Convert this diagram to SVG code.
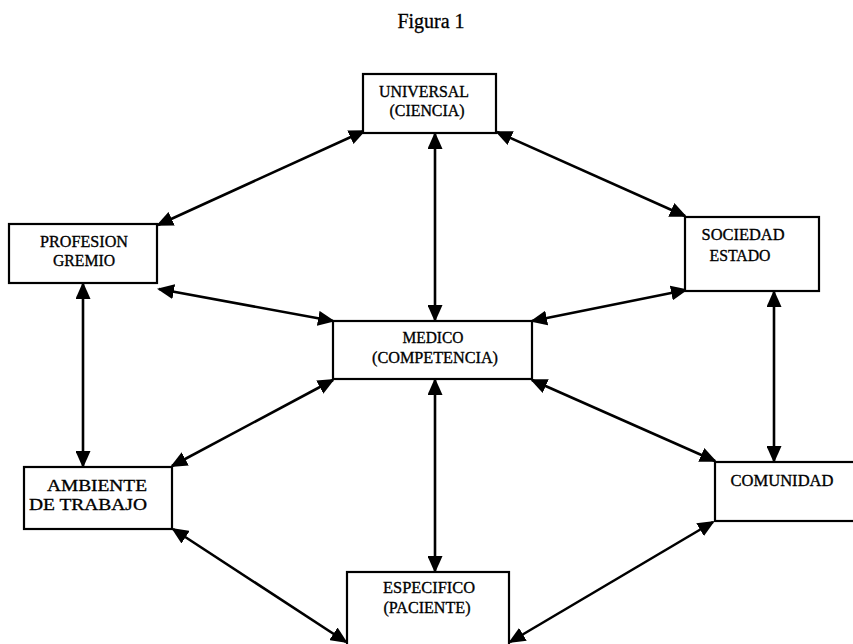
<svg xmlns="http://www.w3.org/2000/svg" width="853" height="644" viewBox="0 0 853 644">
<style>
.box{fill:#fff;stroke:#000;stroke-width:2.2}
.t{font-family:"Liberation Serif","Times New Roman",serif;font-size:17px;fill:#000;stroke:#000;stroke-width:0.35;text-anchor:middle}
.title{font-family:"Liberation Serif","Times New Roman",serif;font-size:20px;fill:#000;stroke:#000;stroke-width:0.3;text-anchor:middle}
.c line{stroke:#000;stroke-width:2.6;marker-start:url(#ah);marker-end:url(#ah)}
</style>
<defs>
<marker id="ah" markerUnits="userSpaceOnUse" markerWidth="17" markerHeight="15" viewBox="0 0 17 15" refX="15" refY="7.5" orient="auto-start-reverse">
<path d="M0,0 L17,7.5 L0,15 z" fill="#000"/>
</marker>
</defs>
<rect width="853" height="644" fill="#fff"/>
<text class="title" x="431" y="28">Figura 1</text>
<g class="c" id="connectors">
<line x1="158" y1="225" x2="364" y2="131"/>
<line x1="497" y1="132" x2="685" y2="216"/>
<line x1="435" y1="134" x2="435" y2="320"/>
<line x1="159" y1="289" x2="333" y2="321"/>
<line x1="686" y1="290" x2="532" y2="321"/>
<line x1="83" y1="284" x2="83" y2="466"/>
<line x1="774" y1="292" x2="774" y2="461"/>
<line x1="333" y1="380" x2="172" y2="466"/>
<line x1="532" y1="380" x2="715" y2="461"/>
<line x1="435" y1="380" x2="435" y2="571"/>
<line x1="173" y1="529" x2="346" y2="642"/>
<line x1="713" y1="522" x2="510" y2="642"/>
</g>
<g id="universal">
<rect class="box" x="363" y="74" width="133" height="59"/>
<text class="t" x="424" y="97" textLength="90" lengthAdjust="spacingAndGlyphs">UNIVERSAL</text>
<text class="t" x="427" y="116" textLength="75" lengthAdjust="spacingAndGlyphs">(CIENCIA)</text>
</g>
<g id="profesion">
<rect class="box" x="9" y="224" width="148" height="59"/>
<text class="t" x="84" y="247" textLength="88" lengthAdjust="spacingAndGlyphs">PROFESION</text>
<text class="t" x="84" y="266" textLength="62" lengthAdjust="spacingAndGlyphs">GREMIO</text>
</g>
<g id="sociedad">
<rect class="box" x="685" y="217" width="134" height="74"/>
<text class="t" x="743" y="240" textLength="83" lengthAdjust="spacingAndGlyphs">SOCIEDAD</text>
<text class="t" x="740" y="261" textLength="61" lengthAdjust="spacingAndGlyphs">ESTADO</text>
</g>
<g id="medico">
<rect class="box" x="333" y="321" width="199" height="58"/>
<text class="t" x="433" y="343" textLength="61" lengthAdjust="spacingAndGlyphs">MEDICO</text>
<text class="t" x="435" y="363" textLength="126" lengthAdjust="spacingAndGlyphs">(COMPETENCIA)</text>
</g>
<g id="ambiente">
<rect class="box" x="24" y="467" width="148" height="62"/>
<text class="t" x="97" y="491" textLength="100" lengthAdjust="spacingAndGlyphs">AMBIENTE</text>
<text class="t" x="88" y="510" textLength="118" lengthAdjust="spacingAndGlyphs">DE TRABAJO</text>
</g>
<g id="comunidad">
<rect class="box" x="715" y="462" width="160" height="59"/>
<text class="t" x="782" y="486" textLength="103" lengthAdjust="spacingAndGlyphs">COMUNIDAD</text>
</g>
<g id="especifico">
<rect class="box" x="347" y="572" width="162" height="90"/>
<text class="t" x="429" y="593" textLength="92" lengthAdjust="spacingAndGlyphs">ESPECIFICO</text>
<text class="t" x="427" y="613" textLength="87" lengthAdjust="spacingAndGlyphs">(PACIENTE)</text>
</g>
</svg>
